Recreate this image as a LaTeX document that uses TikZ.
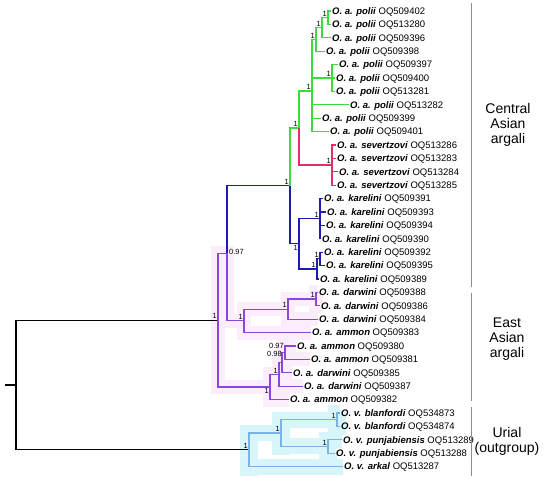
\documentclass[tikz,border=0pt]{standalone}
\usepackage{fontspec}
\setmainfont{Liberation Sans}
\usetikzlibrary{positioning,backgrounds,calc}
\definecolor{treeGreen}{HTML}{3CDC3C}
\definecolor{treeRed}{HTML}{E0306A}
\definecolor{treeBlue}{HTML}{1C1CB4}
\definecolor{treePurple}{HTML}{8C46DC}
\definecolor{treeCyan}{HTML}{78B4E6}
\definecolor{glowCyan}{HTML}{D8F6FA}
\definecolor{glowPink}{HTML}{FCEDFC}
\definecolor{barGrey}{HTML}{8C8C8C}
\tikzset{
  branch/.style={line width=1.2pt},
  gbr/.style={branch, draw=treeGreen},
  rbr/.style={branch, draw=treeRed},
  bbr/.style={branch, draw=treeBlue},
  pbr/.style={branch, draw=treePurple},
  cbr/.style={branch, draw=treeCyan},
  kbr/.style={branch, draw=black},
  glowP/.style={fill=glowPink},
  glowC/.style={fill=glowCyan},
  tip/.style={anchor=base west, yshift=-3.4pt, inner sep=1pt,
              font=\fontsize{9.5}{11}\selectfont},
  pp/.style={anchor=south east, inner sep=1pt, font=\fontsize{7.5}{8}\selectfont},
  ppb/.style={pp, anchor=north east},
  bar/.style={draw=barGrey, line width=0.9pt},
  grp/.style={align=center, font=\fontsize{14}{15}\selectfont},
}

\begin{document}
\begin{tikzpicture}[x=1pt,y=-1pt]
  \useasboundingbox (0,0) rectangle (550,478);
  % internal nodes
  \foreach \n/\x/\y in {R/16/385, AR/218/320.2, X/227/253.4, CA/290/185.9,
      PS/299/128.05, POL/312/91, P1234/316/39.5, P123/322/27.75, P12/328/17.7,
      P567/332/78, SEV/332/165.1, KAR/299/243.8, K1/320/218.7, K2/317/268.95,
      K19/320/258.9, Y/244/320.9, D/288/309.15, D12/316/299.1, E2/270/387.05,
      E3/279/374.5, E4/282/362.75, E5/285/352.7, U/249/449.85, U2/281/433.1,
      U3/337/419.7, U4/328/446.5}
    \coordinate (\n) at (\x,\y);
  \coordinate (S) at (5,385);

  % tips
  \foreach \k/\x/\sp/\acc in {
      1/331/O. a. polii/OQ509402, 2/331/O. a. polii/OQ513280,
      3/331/O. a. polii/OQ509396, 4/325/O. a. polii/OQ509398,
      5/338/O. a. polii/OQ509397, 6/335/O. a. polii/OQ509400,
      7/335/O. a. polii/OQ513281, 8/349/O. a. polii/OQ513282,
      9/321/O. a. polii/OQ509399, 10/329/O. a. polii/OQ509401,
      11/336/O. a. severtzovi/OQ513286, 12/336/O. a. severtzovi/OQ513283,
      13/338/O. a. severtzovi/OQ513284, 14/336/O. a. severtzovi/OQ513285,
      15/323/O. a. karelini/OQ509391, 16/326/O. a. karelini/OQ509393,
      17/325/O. a. karelini/OQ509394, 18/321/O. a. karelini/OQ509390,
      19/323/O. a. karelini/OQ509392, 20/325/O. a. karelini/OQ509395,
      21/319/O. a. karelini/OQ509389, 22/318/O. a. darwini/OQ509388,
      23/320/O. a. darwini/OQ509386, 24/318/O. a. darwini/OQ509384,
      25/311/O. a. ammon/OQ509383, 26/296/O. a. ammon/OQ509380,
      27/310/O. a. ammon/OQ509381, 28/292/O. a. darwini/OQ509385,
      29/303/O. a. darwini/OQ509387, 30/289/O. a. ammon/OQ509382,
      31/340/O. v. blanfordi/OQ534873, 32/340/O. v. blanfordi/OQ534874,
      33/342/O. v. punjabiensis/OQ513289, 34/335/O. v. punjabiensis/OQ513288,
      35/343/O. v. arkal/OQ513287}{
    \coordinate (t\k) at (\x,{11+(\k-1)*13.4});
    \node[tip] (l\k) at (t\k) {\textbf{\textit{\sp}} \acc};
  }

  % glow behind the East Asian and urial clades
  \begin{scope}[on background layer]
    \foreach \p/\c in {AR/X, X/Y, Y/D, D/D12, D12/t22, D12/t23, D/t24, Y/t25,
        AR/E2, E2/E3, E3/E4, E4/E5, E5/t26, E5/t27, E4/t28, E3/t29, E2/t30}{
      \fill[glowP] ($(\p)+(-7,-7)$) rectangle ($(\p|-\c)+(7,7)$);
      \fill[glowP] ($(\p|-\c)+(-7,-7)$) rectangle ($(\c)+(0,7)$);
    }
    \foreach \p/\c in {U/U2, U2/U3, U3/t31, U3/t32, U2/U4, U4/t33, U4/t34, U/t35}{
      \fill[glowC] ($(\p)+(-9,-9)$) rectangle ($(\p|-\c)+(9,9)$);
      \fill[glowC] ($(\p|-\c)+(-9,-8)$) rectangle ($(\c)+(0,8)$);
    }
  \end{scope}

  % branches
  \draw[kbr] (S) -- (R);
  \foreach \c in {AR, U} \draw[kbr] (R) |- (\c);
  \foreach \p/\c in {AR/X, X/Y, Y/D, D/D12, D12/t22, D12/t23, D/t24, Y/t25,
      AR/E2, E2/E3, E3/E4, E4/E5, E5/t26, E5/t27, E4/t28, E3/t29, E2/t30}
    \draw[pbr] (\p) |- (\c);
  \foreach \p/\c in {X/CA, CA/KAR, KAR/K1, K1/t15, K1/t16, K1/t17, K1/t18,
      KAR/K2, K2/K19, K19/t19, K19/t20, K2/t21}
    \draw[bbr] (\p) |- (\c);
  \foreach \p/\c in {CA/PS, PS/POL, POL/P1234, P1234/P123, P123/P12, P12/t1,
      P12/t2, P123/t3, P1234/t4, POL/P567, P567/t5, P567/t6, P567/t7,
      POL/t8, POL/t9, POL/t10}
    \draw[gbr] (\p) |- (\c);
  \foreach \p/\c in {PS/SEV, SEV/t11, SEV/t12, SEV/t13, SEV/t14}
    \draw[rbr] (\p) |- (\c);
  \foreach \p/\c in {U/U2, U2/U3, U3/t31, U3/t32, U2/U4, U4/t33, U4/t34, U/t35}
    \draw[cbr] (\p) |- (\c);

  % posterior probabilities
  \foreach \n in {AR, CA, PS, POL, P1234, P123, P12, P567, SEV, K1, K2, K19,
      Y, D, D12, E3, U, U2, U3, U4}
    \node[pp] (pp\n) at (\n) {1};
  \node[ppb] (ppKAR) at (KAR) {1};
  \node[ppb] (ppE2) at (E2) {1};
  \node[pp, anchor=west, xshift=1pt, yshift=1pt] (ppX) at (X) {0.97};
  \node[pp, yshift=3pt] (ppE5) at (E5) {0.97};
  \node[pp, xshift=1pt, yshift=4.5pt] (ppE4) at (E4) {0.98};

  % clade bars
  \foreach \n/\a/\b in {ca/3/287, ea/293/401, ur/407/476}{
    \coordinate (\n top) at (471,\a);
    \coordinate (\n bot) at (471,\b);
    \draw[bar] (\n top) -- (\n bot);
  }
  \node[grp] (caL) at (508,124.4) {Central\\Asian\\argali};
  \node[grp] (eaL) at (507,339.4) {East\\Asian\\argali};
  \node[grp] (urL) at (507,441.5) {Urial\\(outgroup)};
\end{tikzpicture}
\end{document}
